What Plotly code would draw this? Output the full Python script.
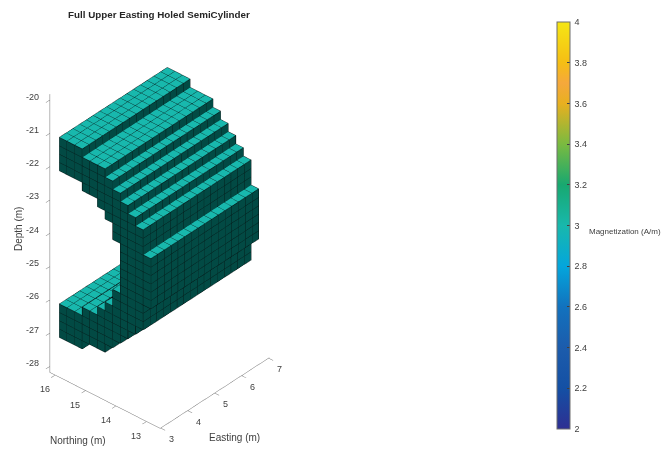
import plotly.graph_objects as go

# ---- data ----
title = "Full Upper Easting Holed SemiCylinder"
easting_voxel_edges = [3 + 0.25 * k for k in range(17)]
voxel = 0.25
# Northing of the high edge of each column (m)
column_north = [15.875, 15.625, 15.375, 15.125, 14.875, 14.625, 14.375, 14.125, 13.875, 13.625, 13.375, 13.125]
# Upper arc: top / bottom depth of each column (m)
upper_top = [-21.0, -21.0, -21.0, -21.25, -21.25, -21.25, -21.5, -21.75, -22.0, -22.25, -22.5, -23.25]
upper_bot = [-22.0, -22.0, -22.0, -22.25, -22.25, -22.5, -22.75, -23.25, -26.0, -25.75, -25.5, -24.75]
# Lower arc: top / bottom depth (web columns are carried by the upper arrays)
lower_top = [-26.0, -26.0, -26.0, -25.75, -25.75, -25.5, -25.25, -24.75, None, None, None, None]
lower_bot = [-27.0, -27.0, -27.0, -26.75, -26.75, -26.75, -26.5, -26.25, None, None, None, None]
magnetization = 3.0

cbar_ticks = [2, 2.2, 2.4, 2.6, 2.8, 3, 3.2, 3.4, 3.6, 3.8, 4]
cbar_scale = [[0, "#2E2F92"], [0.1, "#1450A4"], [0.2, "#1C5CAC"], [0.3, "#1272BE"], [0.4, "#04A6DC"],
              [0.5, "#18B8AC"], [0.6, "#18A870"], [0.7, "#7ABA40"], [0.8, "#E8B020"], [0.85, "#F5A83C"],
              [0.9, "#F5BE14"], [1, "#F5E614"]]
E_range = [2.98, 7.02]
N_range = [12.55, 16.17]
Z_range = [-28.18, -19.83]
E_ticks = [3, 4, 5, 6, 7]
N_ticks = [13, 14, 15, 16]
Z_ticks = [-28, -27, -26, -25, -24, -23, -22, -21, -20]

SIDE = "#024A44"
EDGE = "#061010"
AXC = "#6E6E6E"
TXT = "#404040"
FONT = "Liberation Sans"

# ---- build visible faces from the columns ----
segments = []
for i, north in enumerate(column_north):
    segs = [(upper_top[i], upper_bot[i])]
    if lower_top[i] is not None:
        segs.append((lower_top[i], lower_bot[i]))
    segments.append((north, segs))


def occupied(i, z_mid):
    if i < 0 or i >= len(segments):
        return False
    return any(b < z_mid < t for t, b in segments[i][1])


top_quads, side_quads = [], []
for i, (north, segs) in enumerate(segments):
    s = north - voxel
    for t, b in segs:
        for k in range(len(easting_voxel_edges) - 1):
            e0, e1 = easting_voxel_edges[k], easting_voxel_edges[k + 1]
            top_quads.append([(e0, s, t), (e1, s, t), (e1, north, t), (e0, north, t)])
        rows = int(round((t - b) / voxel))
        for r in range(rows):
            z1 = t - r * voxel
            z0 = z1 - voxel
            e0 = easting_voxel_edges[0]
            side_quads.append([(e0, s, z0), (e0, north, z0), (e0, north, z1), (e0, s, z1)])
            if not occupied(i + 1, (z0 + z1) / 2):
                for k in range(len(easting_voxel_edges) - 1):
                    ea, eb = easting_voxel_edges[k], easting_voxel_edges[k + 1]
                    side_quads.append([(ea, s, z0), (eb, s, z0), (eb, s, z1), (ea, s, z1)])


def mesh_arrays(quads):
    xs, ys, zs, a, b, c = [], [], [], [], [], []
    for q in quads:
        n = len(xs)
        for p in q:
            xs.append(p[0]); ys.append(p[1]); zs.append(p[2])
        a += [n, n]; b += [n + 1, n + 2]; c += [n + 2, n + 3]
    return xs, ys, zs, a, b, c


flat = dict(ambient=1, diffuse=0, specular=0, roughness=1, fresnel=0)
x, y, z, a, b, c = mesh_arrays(top_quads)
top_trace = go.Mesh3d(x=x, y=y, z=z, i=a, j=b, k=c, intensity=[magnetization] * len(a), intensitymode="cell",
                      coloraxis="coloraxis", lighting=flat, flatshading=True, hoverinfo="skip")
x, y, z, a, b, c = mesh_arrays(side_quads)
side_trace = go.Mesh3d(x=x, y=y, z=z, i=a, j=b, k=c, color=SIDE, lighting=flat, flatshading=True, hoverinfo="skip")

lx, ly, lz = [], [], []
for q in top_quads + side_quads:
    for p in q + [q[0]]:
        lx.append(p[0]); ly.append(p[1]); lz.append(p[2])
    lx.append(None); ly.append(None); lz.append(None)
edges = go.Scatter3d(x=lx, y=ly, z=lz, mode="lines", line=dict(color=EDGE, width=1.3), hoverinfo="skip", showlegend=False)


def axis(rng, ticks):
    return dict(range=rng, tickvals=ticks, showticklabels=False, showgrid=False, zeroline=False,
                showbackground=False, showline=True, linecolor=AXC, linewidth=1, ticks="outside", ticklen=6,
                tickcolor=AXC, title=dict(text=""), showspikes=False)


def tick_note(xv, yv, zv, text, dx, dy):
    return dict(x=xv, y=yv, z=zv, text=str(text), showarrow=False, xanchor="center", yanchor="middle",
                xshift=dx, yshift=-dy, font=dict(family=FONT, size=9, color=TXT))


tick_notes = ([tick_note(v, N_range[0], Z_range[0], v, 11, 11) for v in E_ticks]
              + [tick_note(E_range[0], v, Z_range[0], v, -10, 14) for v in N_ticks]
              + [tick_note(E_range[0], N_range[1], v, v, -17, -3.5) for v in Z_ticks])

fig = go.Figure([side_trace, top_trace, edges])
R = 2.51
K = 0.72
fig.update_layout(
    width=664, height=453, margin=dict(l=0, r=0, t=0, b=0), paper_bgcolor="white", showlegend=False,
    coloraxis=dict(cmin=2, cmax=4, colorscale=cbar_scale,
                   colorbar=dict(x=557 / 664, xanchor="left", y=1 - 225.5 / 453, yanchor="middle",
                                 lenmode="pixels", len=407, thickness=13, thicknessmode="pixels", xpad=0, ypad=0,
                                 tickvals=cbar_ticks, ticktext=[f"\u2009{t:g}" for t in cbar_ticks],
                                 ticks="inside", ticklen=3, tickcolor="#404040",
                                 outlinecolor=AXC, outlinewidth=1,
                                 tickfont=dict(family=FONT, size=9, color=TXT))),
    scene=dict(domain=dict(x=[0, 318.8 / 664], y=[0.002, 0.9996]),
               aspectmode="manual",
               aspectratio=dict(x=K * 4.04 / 4, y=K * 3.62 / 4, z=K * 8.35 / 4),
               xaxis=axis(E_range, E_ticks), yaxis=axis(N_range, N_ticks), zaxis=axis(Z_range, Z_ticks),
               annotations=tick_notes,
               camera=dict(projection=dict(type="orthographic"), up=dict(x=0, y=0, z=1),
                           center=dict(x=0, y=0, z=0),
                           eye=dict(x=-0.749 * 0.819 * R, y=-0.663 * 0.819 * R, z=0.574 * R))),
    annotations=[
        dict(text=f"<b>{title}</b>", x=159 / 664, y=1 - 15 / 453, xref="paper", yref="paper", showarrow=False,
             xanchor="center", yanchor="middle", font=dict(family=FONT, size=9.8, color="#262626")),
        dict(text="Magnetization (A/m)", x=587 / 664, y=1 - 231 / 453, xref="paper", yref="paper", showarrow=False,
             xanchor="left", yanchor="middle", font=dict(family=FONT, size=8, color=TXT)),
        dict(text="Northing (m)", x=78 / 664, y=1 - 440 / 453, xref="paper", yref="paper", showarrow=False,
             xanchor="center", yanchor="middle", font=dict(family=FONT, size=10, color=TXT)),
        dict(text="Easting (m)", x=234 / 664, y=1 - 437 / 453, xref="paper", yref="paper", showarrow=False,
             xanchor="center", yanchor="middle", font=dict(family=FONT, size=10, color=TXT)),
        dict(text="Depth (m)", x=18 / 664, y=1 - 229 / 453, xref="paper", yref="paper", showarrow=False, textangle=-90,
             xanchor="center", yanchor="middle", font=dict(family=FONT, size=10, color=TXT)),
    ],
)
fig.write_html("out.html", post_script="document.body.style.margin='0';", config=dict(displayModeBar=False))
